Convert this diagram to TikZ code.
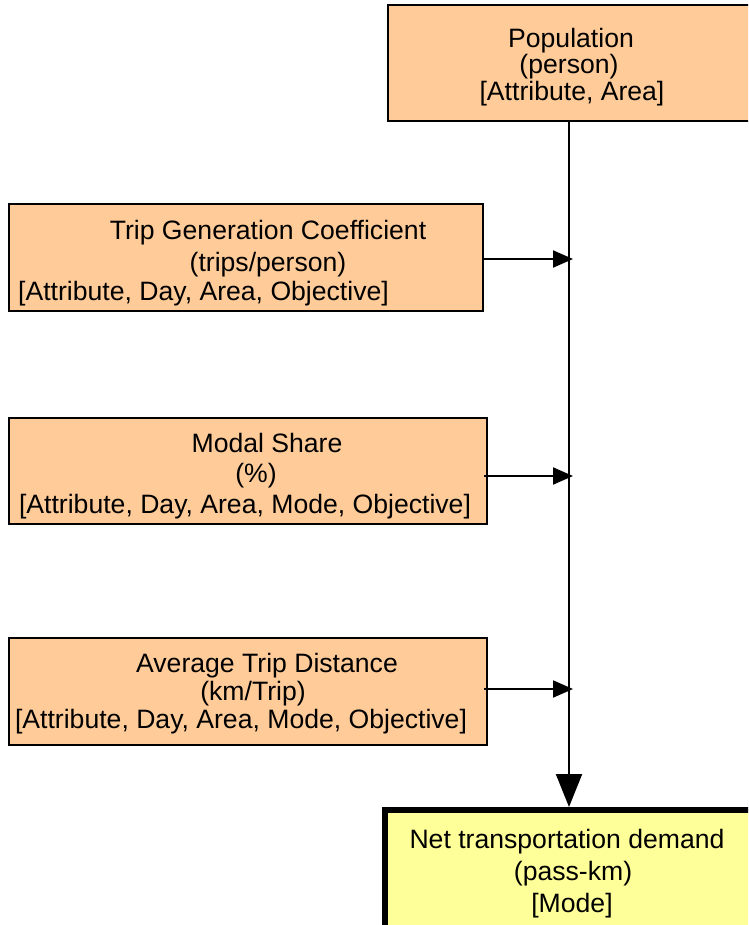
\documentclass[tikz,border=0pt]{standalone}
\usepackage{fontspec}
\setmainfont{Liberation Sans}
\usetikzlibrary{arrows.meta}
\definecolor{inputfill}{HTML}{FFCC99}
\definecolor{outputfill}{HTML}{FFFF99}
\tikzset{
  varbox/.style={draw=black, line width=2pt, fill=inputfill, rectangle, inner sep=0pt},
  resultbox/.style={draw=black, line width=6pt, fill=outputfill, rectangle, inner sep=0pt},
  lbl/.style={anchor=base, inner sep=0pt, font=\fontsize{26.6}{27}\selectfont},
  lblleft/.style={anchor=base west, inner sep=0pt, font=\fontsize{26.6}{27}\selectfont},
  flow/.style={line width=2pt, -{Triangle[length=20pt,width=17pt]}},
  mainflow/.style={line width=2pt, -{Triangle[length=33pt,width=26pt]}}
}
\begin{document}
\begin{tikzpicture}[x=1pt,y=-1pt]
\useasboundingbox (0,0) rectangle (748,925);
\clip (0,0) rectangle (748,925);

% population
\node[varbox, minimum width=362pt, minimum height=116pt] (pop) at (569,63) {};
\node[lbl] (popa) at (571,48) {Population};
\node[lbl] (popb) at (569,74) {(person)};
\node[lbl] (popc) at (572,101) {[Attribute, Area]};

% trip generation
\node[varbox, minimum width=474pt, minimum height=107pt] (trip) at (246,257.5) {};
\node[lbl] (tripa) at (268,240) {Trip Generation Coefficient};
\node[lbl] (tripb) at (268,271) {(trips/person)};
\node[lblleft] (tripc) at (18,300) {[Attribute, Day, Area, Objective]};

% modal share
\node[varbox, minimum width=478pt, minimum height=106pt] (modal) at (248,471) {};
\node[lbl] (modala) at (267,452) {Modal Share};
\node[lbl] (modalb) at (256,482) {(\%)};
\node[lbl] (modalc) at (245,513) {[Attribute, Day, Area, Mode, Objective]};

% average trip distance
\node[varbox, minimum width=478pt, minimum height=107pt] (avg) at (248,691.5) {};
\node[lbl] (avga) at (267,672) {Average Trip Distance};
\node[lbl] (avgb) at (253,700) {(km/Trip)};
\node[lbl] (avgc) at (241,728) {[Attribute, Day, Area, Mode, Objective]};

% result
\node[resultbox, minimum width=370pt, minimum height=126pt] (net) at (570,873) {};
\node[lbl] (neta) at (567,848) {Net transportation demand};
\node[lbl] (netb) at (573,880) {(pass-km)};
\node[lbl] (netc) at (572,912) {[Mode]};

% connectors
\draw[mainflow] (pop.south) -- (pop.south |- net.north);
\draw[flow] ([yshift=-1.5pt]trip.east) -- ([yshift=-1.5pt,xshift=4pt]trip.east -| pop.south);
\draw[flow] ([xshift=-4pt,yshift=-5pt]modal.east) -- ([yshift=-5pt,xshift=4pt]modal.east -| pop.south);
\draw[flow] ([xshift=-4pt,yshift=2.5pt]avg.east) -- ([yshift=2.5pt,xshift=4pt]avg.east -| pop.south);
\end{tikzpicture}
\end{document}
